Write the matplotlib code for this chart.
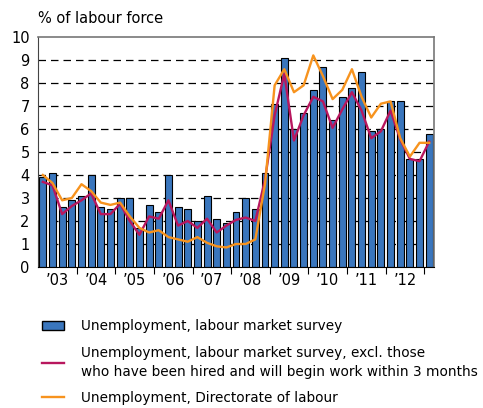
import numpy as np
import matplotlib
matplotlib.use("Agg")
import matplotlib.pyplot as plt
from matplotlib.patches import Patch
from matplotlib.lines import Line2D

# quarterly data, 2003 Q1 - 2013 Q1
years = ["’03", "’04", "’05", "’06", "’07", "’08", "’09", "’10", "’11", "’12"]
lfs = [3.9, 4.1, 2.6, 2.9, 3.1, 4.0, 2.6, 2.5, 3.0, 3.0, 1.7, 2.7,
       2.4, 4.0, 2.6, 2.5, 2.0, 3.1, 2.1, 1.9, 2.4, 3.0, 2.5, 4.1,
       7.1, 9.1, 6.0, 6.7, 7.7, 8.7, 6.4, 7.4, 7.8, 8.5, 5.9, 6.0,
       7.2, 7.2, 4.7, 4.7, 5.8]
lfs_excl = [3.7, 3.55, 2.3, 2.65, 2.9, 3.2, 2.3, 2.3, 2.75, 2.0, 1.4, 2.2,
            2.1, 2.9, 1.8, 2.0, 1.7, 2.1, 1.5, 1.8, 2.05, 2.15, 2.0, 3.8,
            6.6, 8.4, 5.5, 6.6, 7.4, 7.2, 6.05, 6.85, 7.6, 6.8, 5.6, 5.9,
            6.8, 5.55, 4.7, 4.6, 5.45]
directorate = [4.0, 3.65, 2.9, 3.0, 3.6, 3.3, 2.8, 2.7, 2.8, 2.2, 1.7, 1.5,
               1.6, 1.3, 1.2, 1.1, 1.3, 1.05, 0.9, 0.85, 1.0, 1.0, 1.2, 3.6,
               7.9, 8.6, 7.6, 7.9, 9.2, 8.3, 7.3, 7.7, 8.6, 7.4, 6.5, 7.1,
               7.2, 5.6, 4.8, 5.4, 5.4]

labels = ["Unemployment, labour market survey",
          "Unemployment, labour market survey, excl. those\nwho have been hired and will begin work within 3 months",
          "Unemployment, Directorate of labour"]

blue = "#3a76bd"
red = "#b8175e"
orange = "#f7931e"

plt.rcParams['font.family'] = 'DejaVu Sans'

fig = plt.figure(figsize=(4.83, 4.08), dpi=100)
ax = fig.add_axes([0.0787, 0.3456, 0.8199, 0.5637])

x = np.arange(len(lfs))
ax.bar(x, lfs, width=0.72, color=blue, edgecolor="black", linewidth=0.8, zorder=2)
ax.plot(x, lfs_excl, color=red, lw=1.7, zorder=3)
ax.plot(x, directorate, color=orange, lw=1.7, zorder=4)

ax.set_xlim(-0.5, len(lfs) - 0.5)
ax.set_ylim(0, 10)
ax.set_yticks(range(0, 11))
ax.tick_params(axis="y", length=0, labelsize=10.5, pad=6)
for v in range(1, 10):
    ax.axhline(v, color="black", lw=0.9, ls=(0, (6, 4)), zorder=1)

ax.set_xticks(np.arange(1.5, 40, 4))
ax.set_xticklabels(years)
ax.set_xticks(np.arange(3.5, 40, 4), minor=True)
ax.tick_params(axis="x", which="major", length=0, labelsize=10.5, pad=4)
ax.tick_params(axis="x", which="minor", length=5, width=0.8, color="black")

for s in ["top", "right"]:
    ax.spines[s].set_color("#777777")
    ax.spines[s].set_linewidth(1.2)
ax.spines["left"].set_color("#444444")
ax.spines["bottom"].set_color("black")

fig.text(0.0787, 0.955, "% of labour force", fontsize=10.5, va="center", ha="left")

handles = [Patch(facecolor=blue, edgecolor="black", linewidth=1),
           Line2D([], [], color=red, lw=1.7),
           Line2D([], [], color=orange, lw=1.7)]
leg = fig.legend(handles, labels, loc="upper left", bbox_to_anchor=(0.087, 0.218),
                 frameon=False, fontsize=9.8, handlelength=1.6, handleheight=0.7,
                 handletextpad=1.25, labelspacing=0.92, borderpad=0, borderaxespad=0)
for t in leg.get_texts():
    t.set_linespacing(1.45)

fig.savefig("out.png", dpi=100)
